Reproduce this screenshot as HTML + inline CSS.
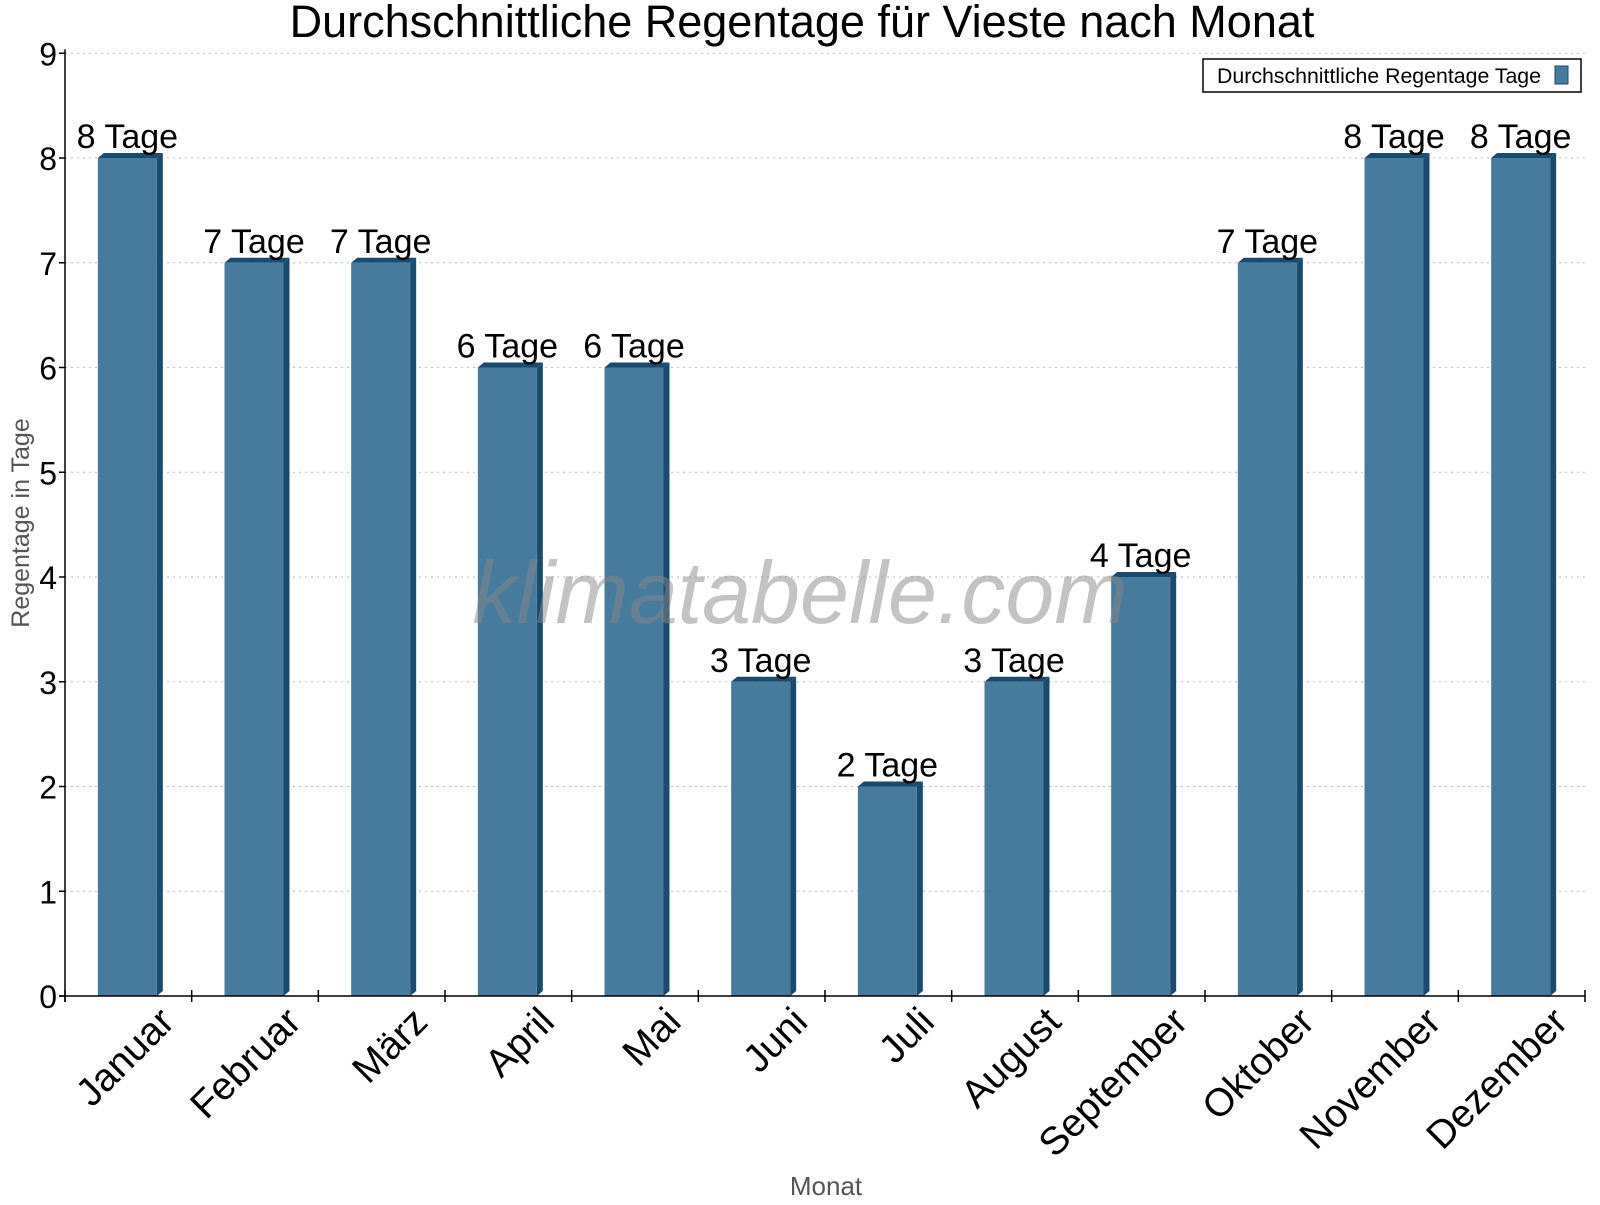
<!DOCTYPE html>
<html><head><meta charset="utf-8"><style>
body{margin:0;background:#fff;}
svg text{font-family:"Liberation Sans",Arial,sans-serif;}
</style></head><body>
<svg id="chart" width="1600" height="1200" xmlns="http://www.w3.org/2000/svg">
<text x="802" y="37" font-size="45" text-anchor="middle">Durchschnittliche Regentage für Vieste nach Monat</text>
<g id="grid"></g>
<g id="bars"></g>
<text x="800" y="623" font-size="88" font-style="italic" fill="#888" fill-opacity="0.5" text-anchor="middle">klimatabelle.com</text>
<g id="axes"></g>
<text transform="translate(29,523) rotate(-90)" font-size="25" fill="#555" text-anchor="middle">Regentage in Tage</text>
<text x="826" y="1195" font-size="26" fill="#555" text-anchor="middle">Monat</text>
<g>
<rect x="1203" y="59" width="378" height="33" fill="#fff" stroke="#000" stroke-width="1.5"/>
<text x="1217" y="83" font-size="21.3">Durchschnittliche Regentage Tage</text>
<rect x="1555" y="66" width="13" height="18" fill="#477b9d" stroke="#1a4a6e"/>
</g>
</svg>
<script>
const months=["Januar","Februar","März","April","Mai","Juni","Juli","August","September","Oktober","November","Dezember"];
const rainDays=[8,7,7,6,6,3,2,3,4,7,8,8];
const yTicks=[0,1,2,3,4,5,6,7,8,9];
const NS="http://www.w3.org/2000/svg";
const X0=65,X1=1585,Y0=996,UNIT=104.75;
const cw=(X1-X0)/months.length;
const xc=i=>X0+cw*(i+0.5);
const y=v=>Y0-v*UNIT;
function el(t,a,p){const e=document.createElementNS(NS,t);for(const k in a)e.setAttribute(k,a[k]);p.appendChild(e);return e;}
const grid=document.getElementById('grid'),bars=document.getElementById('bars'),axes=document.getElementById('axes');
yTicks.forEach(v=>{
  if(v>0){const g=el('line',{x1:X0,x2:X1,y1:y(v),y2:y(v),stroke:'#bbb','stroke-dasharray':'2,4'},grid);
  
  }
  el('line',{x1:X0-6,x2:X0,y1:y(v),y2:y(v),stroke:'#000','stroke-width':1.5},axes);
  const t=el('text',{x:X0-8,y:y(v)+12,'font-size':32,'text-anchor':'end'},axes);
  t.textContent=v;
  
  
});
el('line',{x1:X0,x2:X0,y1:y(9)-4,y2:Y0+6,stroke:'#000','stroke-width':1.5},axes);
el('line',{x1:X0-6,x2:X1,y1:Y0,y2:Y0,stroke:'#000','stroke-width':1.5},axes);
for(let i=0;i<=months.length;i++){el('line',{x1:X0+cw*i,x2:X0+cw*i,y1:Y0-6,y2:Y0+6,stroke:'#000','stroke-width':1.5},axes);}
const bw=59,d=6;
rainDays.forEach((v,i)=>{
  const g=el('g',{},bars);
  
  
  const l=xc(i)-bw/2-1,t=y(v);
  el('polygon',{points:`${l},${t} ${l+d},${t-5} ${l+bw+d},${t-5} ${l+bw},${t}`,fill:'#1a4a6e'},g);
  el('polygon',{points:`${l+bw},${t} ${l+bw+d},${t-5} ${l+bw+d},${Y0-5} ${l+bw},${Y0}`,fill:'#1a4a6e'},g);
  el('rect',{x:l,y:t,width:bw,height:Y0-t,fill:'#477b9d'},g);
  const lb=el('text',{x:xc(i)-1,y:t-10,'font-size':34,'text-anchor':'middle'},bars);
  lb.textContent=v+' Tage';
  
  
  const ml=el('text',{transform:`translate(${xc(i)+48},${Y0+28}) rotate(-45)`,'font-size':39,'text-anchor':'end'},axes);
  ml.textContent=months[i];
  
  
});
</script>
</body></html>
